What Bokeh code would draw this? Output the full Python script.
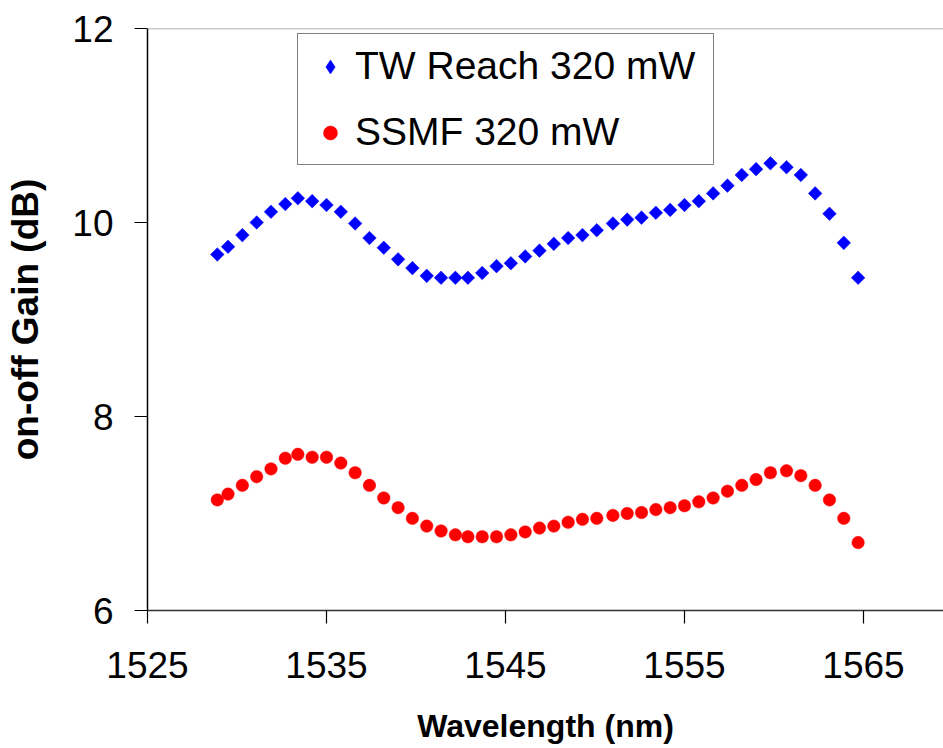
from bokeh.plotting import figure
from bokeh.models import FixedTicker, Span, Legend, LegendItem, ColumnDataSource
from bokeh.embed import file_html
from bokeh.resources import INLINE

# ---- data ----
wavelength_nm = [1528.9, 1529.5, 1530.3, 1531.1, 1531.9, 1532.7, 1533.4, 1534.2, 1535.0, 1535.8,
                 1536.6, 1537.4, 1538.2, 1539.0, 1539.8, 1540.6, 1541.4, 1542.2, 1542.9, 1543.7,
                 1544.5, 1545.3, 1546.1, 1546.9, 1547.7, 1548.5, 1549.3, 1550.1, 1551.0, 1551.8,
                 1552.6, 1553.4, 1554.2, 1555.0, 1555.8, 1556.6, 1557.4, 1558.2, 1559.0, 1559.8,
                 1560.7, 1561.5, 1562.3, 1563.1, 1563.9, 1564.7]

tw_reach_gain_db = [9.67, 9.75, 9.87, 10.00, 10.11, 10.19, 10.25, 10.22, 10.18, 10.11,
                    9.99, 9.84, 9.74, 9.62, 9.53, 9.45, 9.43, 9.43, 9.43, 9.48,
                    9.55, 9.58, 9.65, 9.71, 9.78, 9.84, 9.87, 9.92, 9.99, 10.03,
                    10.05, 10.10, 10.13, 10.18, 10.22, 10.30, 10.38, 10.49, 10.55, 10.61,
                    10.57, 10.49, 10.30, 10.09, 9.79, 9.43]

ssmf_gain_db = [7.14, 7.20, 7.29, 7.38, 7.46, 7.57, 7.61, 7.58, 7.58, 7.52,
                7.42, 7.29, 7.16, 7.06, 6.95, 6.87, 6.82, 6.78, 6.76, 6.76,
                6.76, 6.78, 6.81, 6.85, 6.87, 6.91, 6.94, 6.95, 6.98, 7.00,
                7.01, 7.04, 7.06, 7.08, 7.12, 7.16, 7.23, 7.29, 7.35, 7.42,
                7.44, 7.39, 7.29, 7.14, 6.95, 6.70]

x_ticks = [1525, 1535, 1545, 1555, 1565]
y_ticks = [6, 8, 10, 12]
series_labels = ["TW Reach 320 mW", "SSMF 320 mW"]
x_title = "Wavelength (nm)"
y_title = "on-off Gain (dB)"

FONT = "Liberation Sans"
BLUE = "#0000ff"
RED = "#ff0000"

p = figure(width=943, height=748, output_backend="svg", toolbar_location=None,
           x_range=(1525, 1569.47), y_range=(6, 12),
           min_border_left=147, min_border_right=0, min_border_top=28, min_border_bottom=138)

p.background_fill_color = "white"
p.border_fill_color = "white"
p.outline_line_color = None
p.xgrid.visible = False
p.ygrid.visible = False

src = ColumnDataSource(dict(x=wavelength_nm, tw=tw_reach_gain_db, ssmf=ssmf_gain_db))

r_tw = p.scatter("x", "tw", source=src, marker="square", angle=45, angle_units="deg", size=9.6,
                 fill_color=BLUE, line_color=BLUE, line_width=0.5)
r_ss = p.scatter("x", "ssmf", source=src, marker="circle", size=12.5,
                 fill_color=RED, line_color=RED, line_width=0.5)
# legend key glyph (legend markers are never rotated, so use a diamond marker there);
# the renderer itself is hidden, it only feeds the legend
r_tw_key = p.scatter("x", "tw", source=src, marker="diamond",
                     fill_color=BLUE, line_color=BLUE, line_width=0.5)
r_tw_key.visible = False

# top border line of the plot area
p.add_layout(Span(location=12, dimension="width", line_color="#999999", line_width=1.5))

# axes
for ax in (p.xaxis[0], p.yaxis[0]):
    ax.major_label_text_font = FONT
    ax.major_label_text_font_size = "37px"
    ax.major_label_text_color = "black"
    ax.axis_label_text_font = FONT
    ax.axis_label_text_font_style = "bold"
    ax.axis_label_text_color = "black"
    ax.minor_tick_line_color = None
    ax.major_tick_in = 0
    ax.major_tick_out = 13
    ax.major_tick_line_color = "black"
    ax.major_tick_line_width = 1.2
    ax.axis_line_width = 1.5

p.xaxis[0].ticker = FixedTicker(ticks=x_ticks)
p.yaxis[0].ticker = FixedTicker(ticks=y_ticks)
p.xaxis[0].axis_label = x_title
p.yaxis[0].axis_label = y_title
p.xaxis[0].axis_label_text_font_size = "32px"
p.yaxis[0].axis_label_text_font_size = "37px"
p.xaxis[0].axis_line_color = "#333333"
p.yaxis[0].axis_line_color = "black"
p.xaxis[0].major_label_standoff = 28
p.xaxis[0].axis_label_standoff = 27
p.yaxis[0].major_label_standoff = 21
p.yaxis[0].axis_label_standoff = 23

legend = Legend(items=[LegendItem(label=series_labels[0], renderers=[r_tw_key]),
                       LegendItem(label=series_labels[1], renderers=[r_ss])],
                location=(150, 445), click_policy="none",
                label_text_font=FONT, label_text_font_size="39px", label_text_color="black",
                glyph_width=44, glyph_height=35, label_standoff=3, label_width=348,
                spacing=22, padding=10, margin=0,
                border_line_color="black", border_line_width=1.2,
                background_fill_color="white", background_fill_alpha=1.0)
p.add_layout(legend, "center")

open("out.html", "w").write(file_html(p, INLINE))
